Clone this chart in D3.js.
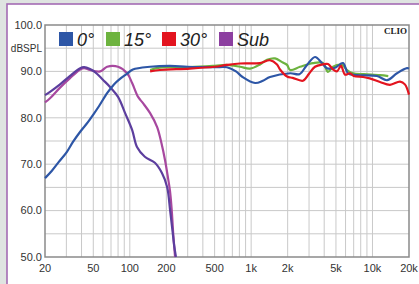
<!DOCTYPE html>
<html>
<head>
<meta charset="utf-8">
<script src="https://cdn.jsdelivr.net/npm/d3@7"></script>
<style>
  body { margin: 0; background: #dfe4e1; }
  svg { display: block; }
</style>
</head>
<body>
<svg id="chart" width="419" height="284"></svg>
<script>
// 0 deg
var freq0 = [20, 22.8, 26, 30, 34, 39, 45, 50, 56, 65, 74, 83, 95, 106, 147, 215, 300, 500, 632, 750, 850, 1078, 1250, 1430, 2098, 2500, 2886, 3360, 3838, 4220, 4913, 5716, 6284, 7452, 10900, 13180, 15920, 19260, 20000];
var db0 = [67, 68.6, 70.5, 72.5, 74.8, 77, 79, 80.7, 82.6, 85.3, 87.2, 88.4, 89.5, 90.4, 91, 91.2, 91, 90.9, 90.9, 90.0, 88.8, 87.5, 88.0, 88.8, 89.6, 89.4, 91.4, 93.1, 91.8, 90.7, 90.8, 91.8, 89.6, 89.2, 89.0, 88.1, 89.6, 90.7, 90.6];
// 15 deg
var freq15 = [147, 177, 313, 500, 632, 810, 979, 1184, 1352, 1574, 1800, 1976, 2098, 2528, 3236, 3910, 4300, 4730, 5610, 6166, 6920, 8500, 11540, 13500];
var db15 = [90.3, 90.8, 90.9, 91.2, 91.4, 91.0, 90.6, 91.5, 92.5, 92.8, 92.0, 91.4, 90.3, 91.0, 91.8, 91.8, 89.9, 91.0, 91.4, 90.3, 89.6, 89.4, 89.2, 89.0];
// 30 deg
var freq30 = [147, 177, 313, 500, 632, 810, 1184, 1430, 1634, 1730, 1976, 2200, 2674, 3000, 3360, 3900, 4300, 4700, 5100, 5500, 5940, 6530, 7000, 8360, 9500, 11540, 13940, 16870, 18500, 20000];
var db30 = [90.0, 90.3, 90.6, 91.0, 91.4, 91.7, 91.8, 92.4, 91.5, 90.4, 88.9, 88.6, 88.0, 89.5, 91.0, 91.5, 91.6, 90.5, 90.0, 91.2, 89.3, 89.6, 89.0, 88.8, 88.5, 87.7, 87.1, 87.8, 87.2, 85.0];
// Sub (two traces)
var subAFreq = [20, 22, 26.6, 32, 39, 42, 47, 52, 60, 69, 80, 91.5, 104.5, 114.6, 133, 161, 184, 203, 215, 224, 232, 240];
var subADb = [84.9, 85.6, 87.2, 89.0, 90.7, 90.9, 90.5, 89.8, 88.2, 86.6, 84.5, 81.0, 77.4, 73.7, 71.6, 70.3, 68.1, 65.1, 60, 56, 52.5, 50];
var subBFreq = [20, 22, 26.6, 32, 39, 42, 47, 57, 65, 80, 95, 104.5, 117, 128, 147, 168, 182, 195, 206, 214, 221, 228, 236];
var subBDb = [83.3, 84.2, 86.5, 88.5, 90.4, 90.7, 90.3, 90.0, 91.0, 91.0, 89.6, 87.5, 84.5, 83.2, 81.0, 78.0, 74.6, 70.9, 67.2, 64.4, 60.5, 55, 50];

var yTicks = [50, 60, 70, 80, 90, 100];
var yGrid = [55, 60, 65, 70, 75, 80, 85, 90, 95];
var xTicks = [20, 50, 100, 200, 500, 1000, 2000, 5000, 10000, 20000];
var xTickLabels = ["20", "50", "100", "200", "500", "1k", "2k", "5k", "10k", "20k"];
var legendNames = ["0°", "15°", "30°", "Sub"];
var legendColors = ["#2d56a6", "#6db33f", "#e3141f", "#8c3fa0"];

var svg = d3.select("#chart");
var margin = {left: 45, top: 25, right: 10, bottom: 27};
var W = 419, H = 284;

// panel
svg.append("rect").attr("x", 0).attr("y", 0).attr("width", W).attr("height", H).attr("fill", "#dfe4e1");
svg.append("rect").attr("x", 7).attr("y", 4).attr("width", W).attr("height", H)
  .attr("fill", "#fff").attr("stroke", "#a46bb4").attr("stroke-width", 1.6);

var x = d3.scaleLog().domain([20, 20000]).range([margin.left, W - margin.right]);
var y = d3.scaleLinear().domain([50, 100]).range([H - margin.bottom, margin.top]);

var g = svg.append("g");

// vertical grid
var gridF = [];
[10, 100, 1000, 10000].forEach(function(dec) {
  for (var k = 1; k < 10; k++) {
    var f = dec * k;
    if (f > 20 && f < 20000) gridF.push(f);
  }
});
g.selectAll(".vg").data(gridF).enter().append("line")
  .attr("x1", function(d) { return x(d); }).attr("x2", function(d) { return x(d); })
  .attr("y1", y(100)).attr("y2", y(50))
  .attr("stroke", "#c9c9c9").attr("stroke-width", 1);

g.selectAll(".hg").data(yGrid).enter().append("line")
  .attr("x1", x(20)).attr("x2", x(20000))
  .attr("y1", function(d) { return y(d); }).attr("y2", function(d) { return y(d); })
  .attr("stroke", "#c9c9c9").attr("stroke-width", 1);

// frame
g.append("rect").attr("x", x(20)).attr("y", y(100))
  .attr("width", x(20000) - x(20)).attr("height", y(50) - y(100))
  .attr("fill", "none").attr("stroke", "#8a8a8a").attr("stroke-width", 1.5);

// y labels
g.selectAll(".yl").data(yTicks).enter().append("text")
  .attr("x", 42).attr("y", function(d) { return y(d); })
  .attr("dy", "0.35em").attr("text-anchor", "end")
  .attr("font-family", "Liberation Sans, Arial, sans-serif").attr("font-size", 11)
  .attr("fill", "#333").text(function(d) { return d.toFixed(1); });
g.append("text").attr("x", 42).attr("y", y(95)).attr("dy", "0.35em")
  .attr("text-anchor", "end").attr("font-family", "Liberation Sans, Arial, sans-serif")
  .attr("font-size", 10).attr("fill", "#333").text("dBSPL");

// x labels
g.selectAll(".xl").data(xTicks).enter().append("text")
  .attr("x", function(d) { return x(d); }).attr("y", 272)
  .attr("text-anchor", "middle")
  .attr("font-family", "Liberation Sans, Arial, sans-serif").attr("font-size", 11)
  .attr("fill", "#333").text(function(d, i) { return xTickLabels[i]; });

// curves
var line = d3.line()
  .x(function(d) { return x(d[0]); })
  .y(function(d) { return y(d[1]); })
  .curve(d3.curveCatmullRom.alpha(0.5));

function zip(f, v) { return f.map(function(d, i) { return [d, v[i]]; }); }

var series = [
  {data: zip(subBFreq, subBDb), color: "#a7489f"},
  {data: zip(subAFreq, subADb), color: "#5c3e9e"},
  {data: zip(freq15, db15), color: "#6db33f"},
  {data: zip(freq0, db0), color: "#2d56a6"},
  {data: zip(freq30, db30), color: "#e3141f"}
];
g.selectAll(".curve").data(series).enter().append("path")
  .attr("d", function(d) { return line(d.data); })
  .attr("fill", "none").attr("stroke", function(d) { return d.color; })
  .attr("stroke-width", 2.2).attr("stroke-linejoin", "round");

// legend
var legX = [59, 106, 162, 219];
var leg = g.selectAll(".leg").data(legendNames).enter().append("g")
  .attr("transform", function(d, i) { return "translate(" + legX[i] + ",32)"; });
leg.append("rect").attr("width", 14).attr("height", 14)
  .attr("fill", function(d, i) { return legendColors[i]; });
leg.append("text").attr("x", 18).attr("y", 13.5)
  .attr("font-family", "Liberation Sans, Arial, sans-serif").attr("font-style", "italic")
  .attr("font-size", 18).attr("fill", "#222").text(function(d) { return d; });

// CLIO mark
g.append("text").attr("x", 407).attr("y", 34).attr("text-anchor", "end")
  .attr("font-family", "Liberation Serif, serif").attr("font-weight", "bold")
  .attr("font-size", 9).attr("fill", "#222").text("CLIO");
</script>
</body>
</html>
